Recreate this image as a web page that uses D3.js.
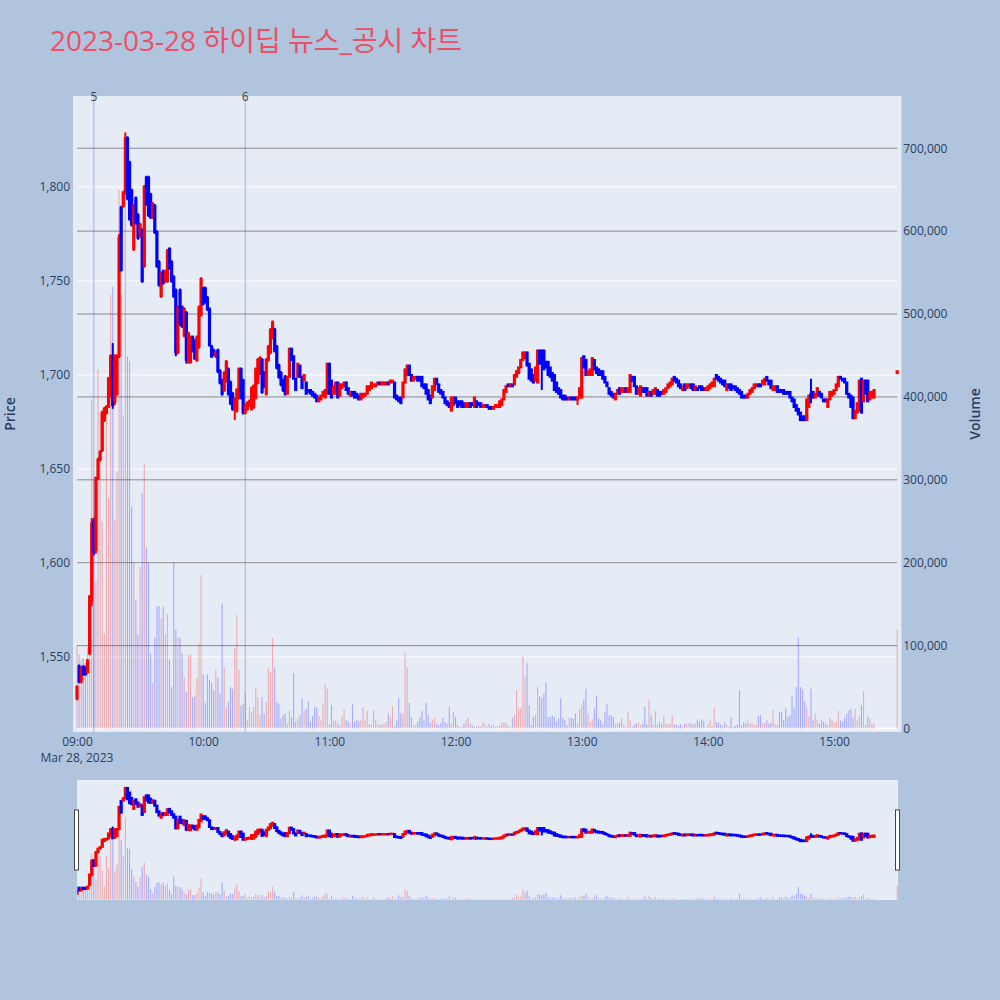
<!DOCTYPE html>
<html><head><meta charset="utf-8">
<script src="https://cdn.jsdelivr.net/npm/d3@7"></script>
<style>body{margin:0;background:#B0C4DE;} svg{display:block}</style>
</head><body><svg id="c" width="1000" height="1000"></svg>
<script>
const chartTitle = "2023-03-28 하이딥 뉴스_공시 차트";
const dateLabel = "Mar 28, 2023";
const sessionStart = "09:00";
const auctionTime = "15:30";
const timeTicks = ["09:00","10:00","11:00","12:00","13:00","14:00","15:00"];
const priceTicks = [1550,1600,1650,1700,1750,1800];
const volumeTicks = [0,100000,200000,300000,400000,500000,600000,700000];
const newsTimes = ["09:08","10:20"];
const newsLabels = ["5","6"];

// one entry per minute from 09:00 (380 regular minutes) + closing auction at 15:30
const open = [
1528,1545,1537,1545,1544,1542,1552,1580,1622,1607,
1645,1655,1660,1676,1680,1683,1690,1710,1686,1690,
1710,1789,1790,1797,1826,1813,1798,1767,1794,1785,
1774,1777,1758,1805,1805,1796,1784,1790,1776,1760,
1742,1755,1750,1750,1767,1760,1752,1745,1712,1745,
1736,1721,1733,1707,1707,1720,1718,1708,1715,1732,
1746,1746,1741,1735,1715,1713,1710,1713,1702,1697,
1692,1697,1703,1696,1690,1682,1681,1688,1703,1697,
1680,1682,1684,1682,1683,1688,1696,1701,1708,1701,
1690,1708,1712,1720,1724,1715,1705,1701,1697,1699,
1690,1699,1714,1710,1698,1699,1705,1699,1697,1696,
1692,1692,1691,1690,1689,1686,1687,1689,1688,1690,
1706,1697,1690,1690,1696,1689,1693,1694,1696,1693,
1689,1691,1691,1690,1689,1687,1688,1689,1690,1692,
1693,1694,1694,1695,1696,1695,1695,1695,1696,1696,
1696,1696,1689,1688,1688,1688,1696,1700,1705,1700,
1697,1698,1699,1699,1699,1695,1695,1692,1689,1688,
1692,1698,1695,1692,1691,1688,1686,1685,1681,1684,
1688,1686,1686,1686,1685,1683,1683,1685,1685,1683,
1686,1685,1685,1683,1683,1684,1683,1683,1682,1683,
1683,1683,1684,1687,1691,1695,1694,1695,1695,1699,
1701,1704,1708,1709,1712,1706,1703,1700,1697,1696,
1713,1713,1713,1707,1707,1704,1701,1700,1696,1693,
1692,1689,1689,1688,1687,1688,1688,1688,1687,1688,
1688,1710,1708,1700,1700,1700,1708,1704,1703,1702,
1702,1699,1696,1693,1691,1690,1687,1690,1693,1691,
1691,1693,1691,1691,1699,1699,1694,1690,1689,1693,
1693,1693,1689,1691,1690,1690,1692,1691,1691,1690,
1691,1693,1694,1695,1699,1698,1697,1695,1692,1695,
1693,1694,1695,1695,1692,1693,1694,1694,1693,1692,
1692,1693,1694,1694,1700,1699,1698,1697,1697,1692,
1695,1695,1694,1694,1693,1692,1691,1689,1689,1688,
1690,1691,1693,1694,1695,1695,1695,1695,1699,1697,
1697,1692,1692,1694,1692,1692,1692,1691,1691,1691,
1688,1687,1684,1682,1680,1678,1678,1676,1683,1690,
1691,1688,1689,1691,1690,1687,1687,1683,1687,1689,
1690,1692,1694,1699,1698,1698,1696,1690,1689,1688,
1677,1680,1681,1698,1686,1697,1697,1687,1688,1688,
1701];
const high = [
1535,1546,1545,1545,1545,1549,1583,1624,1624,1646,
1656,1660,1681,1683,1684,1699,1711,1717,1711,1711,
1775,1790,1798,1829,1827,1814,1799,1791,1795,1786,
1781,1778,1801,1806,1806,1797,1792,1791,1777,1761,
1755,1756,1756,1767,1768,1761,1753,1746,1737,1746,
1737,1736,1734,1723,1721,1721,1719,1721,1737,1752,
1747,1747,1742,1736,1716,1714,1713,1714,1703,1698,
1702,1708,1704,1697,1691,1688,1693,1704,1704,1698,
1685,1686,1687,1694,1695,1704,1709,1710,1709,1702,
1709,1716,1725,1729,1725,1716,1706,1702,1698,1700,
1699,1714,1714,1710,1698,1706,1705,1699,1700,1696,
1692,1692,1691,1690,1689,1688,1689,1691,1692,1706,
1706,1697,1694,1696,1696,1695,1695,1696,1696,1693,
1691,1691,1691,1690,1689,1690,1690,1690,1694,1694,
1696,1695,1695,1696,1696,1696,1696,1696,1696,1697,
1697,1696,1689,1688,1688,1696,1703,1705,1705,1700,
1699,1699,1699,1699,1699,1695,1695,1692,1689,1694,
1698,1698,1695,1692,1691,1688,1686,1685,1688,1688,
1688,1686,1686,1686,1685,1685,1685,1685,1685,1688,
1686,1685,1685,1684,1684,1684,1683,1683,1683,1684,
1684,1686,1687,1692,1694,1695,1695,1695,1700,1702,
1704,1708,1712,1712,1712,1706,1703,1700,1704,1713,
1713,1713,1713,1707,1707,1704,1701,1700,1696,1693,
1692,1689,1689,1688,1688,1688,1688,1688,1688,1693,
1709,1710,1708,1702,1703,1709,1708,1704,1703,1702,
1702,1699,1696,1693,1691,1690,1690,1692,1693,1693,
1693,1693,1693,1700,1699,1699,1694,1693,1694,1693,
1693,1693,1691,1691,1692,1693,1692,1691,1691,1692,
1693,1695,1696,1698,1699,1698,1697,1695,1694,1695,
1695,1695,1695,1695,1694,1693,1694,1694,1693,1693,
1694,1695,1696,1698,1700,1699,1698,1697,1697,1695,
1695,1695,1694,1694,1693,1692,1691,1689,1689,1690,
1692,1693,1695,1695,1695,1695,1697,1698,1699,1697,
1697,1694,1694,1694,1692,1692,1692,1691,1691,1691,
1688,1687,1684,1682,1680,1678,1678,1687,1689,1698,
1691,1690,1693,1691,1690,1687,1687,1687,1691,1691,
1692,1695,1699,1699,1698,1698,1696,1690,1689,1688,
1681,1685,1697,1698,1697,1697,1697,1691,1691,1692,
1702];
const low = [
1527,1536,1536,1540,1540,1541,1551,1577,1604,1605,
1644,1654,1659,1675,1679,1683,1688,1682,1684,1689,
1709,1755,1789,1796,1793,1782,1779,1766,1780,1772,
1773,1749,1757,1790,1784,1783,1783,1775,1757,1747,
1741,1748,1749,1749,1756,1749,1741,1710,1711,1726,
1725,1720,1706,1706,1706,1712,1708,1707,1714,1731,
1737,1738,1734,1715,1709,1710,1709,1701,1695,1689,
1691,1696,1689,1684,1681,1676,1680,1687,1687,1679,
1679,1681,1683,1681,1682,1687,1695,1700,1690,1693,
1689,1707,1711,1719,1712,1703,1698,1694,1691,1689,
1690,1699,1708,1698,1692,1699,1699,1693,1697,1690,
1691,1690,1689,1688,1686,1686,1687,1689,1688,1690,
1690,1688,1690,1690,1688,1689,1693,1694,1692,1690,
1689,1689,1688,1688,1687,1687,1688,1689,1690,1692,
1693,1694,1694,1695,1695,1695,1695,1695,1695,1696,
1696,1688,1687,1686,1685,1688,1696,1700,1700,1697,
1697,1698,1697,1697,1694,1693,1690,1687,1685,1688,
1692,1695,1691,1690,1688,1685,1684,1683,1681,1684,
1685,1683,1684,1683,1683,1683,1683,1683,1684,1683,
1683,1684,1683,1683,1683,1683,1682,1682,1682,1683,
1683,1683,1684,1687,1691,1694,1694,1694,1695,1699,
1701,1704,1708,1709,1705,1698,1697,1696,1697,1696,
1706,1692,1703,1704,1700,1699,1697,1692,1691,1690,
1688,1687,1687,1687,1687,1687,1687,1687,1684,1688,
1688,1704,1700,1700,1700,1700,1703,1701,1700,1700,
1698,1696,1694,1690,1689,1688,1687,1690,1690,1691,
1691,1691,1691,1691,1697,1694,1690,1690,1689,1691,
1691,1689,1689,1689,1690,1690,1689,1689,1690,1690,
1691,1693,1694,1695,1697,1696,1694,1693,1692,1692,
1693,1694,1693,1692,1692,1692,1693,1692,1692,1692,
1692,1693,1694,1694,1698,1697,1696,1695,1694,1692,
1693,1692,1693,1692,1691,1690,1688,1688,1688,1688,
1690,1691,1693,1694,1694,1694,1695,1695,1697,1695,
1693,1692,1692,1691,1691,1691,1690,1690,1690,1688,
1686,1683,1681,1679,1676,1676,1676,1676,1683,1685,
1688,1688,1689,1689,1688,1686,1686,1683,1687,1689,
1690,1692,1694,1698,1697,1696,1690,1688,1683,1677,
1677,1680,1681,1680,1686,1690,1686,1687,1688,1688,
1701];
const close = [
1534,1537,1544,1541,1541,1548,1582,1621,1606,1645,
1655,1659,1680,1682,1683,1698,1710,1684,1710,1710,
1773,1756,1797,1826,1794,1783,1780,1790,1781,1773,
1780,1750,1800,1791,1785,1784,1791,1776,1758,1748,
1754,1749,1755,1766,1757,1750,1742,1712,1736,1728,
1726,1735,1708,1722,1720,1713,1709,1720,1736,1751,
1738,1739,1735,1716,1710,1711,1712,1702,1696,1690,
1701,1707,1690,1685,1682,1687,1692,1703,1688,1680,
1684,1685,1686,1693,1694,1703,1708,1709,1691,1694,
1708,1715,1724,1728,1713,1704,1699,1695,1692,1690,
1699,1714,1708,1698,1692,1706,1699,1693,1700,1690,
1691,1690,1689,1688,1686,1688,1689,1691,1692,1706,
1690,1688,1694,1696,1688,1695,1695,1696,1692,1690,
1691,1689,1688,1688,1687,1690,1690,1690,1694,1694,
1696,1695,1695,1696,1695,1696,1696,1696,1695,1697,
1697,1688,1687,1686,1685,1696,1703,1705,1700,1697,
1699,1699,1697,1697,1694,1693,1690,1687,1685,1694,
1698,1695,1691,1690,1688,1685,1684,1683,1688,1688,
1685,1683,1684,1683,1683,1685,1685,1683,1684,1688,
1683,1684,1683,1684,1684,1683,1682,1682,1683,1684,
1684,1686,1687,1692,1694,1694,1695,1694,1700,1702,
1704,1708,1712,1712,1705,1698,1697,1696,1704,1713,
1706,1706,1703,1704,1700,1699,1697,1692,1691,1690,
1688,1687,1687,1687,1688,1687,1687,1687,1688,1693,
1709,1704,1700,1702,1703,1709,1703,1701,1700,1700,
1698,1696,1694,1690,1689,1688,1690,1692,1690,1693,
1693,1691,1693,1700,1697,1694,1690,1693,1694,1691,
1691,1689,1691,1689,1692,1693,1689,1689,1690,1692,
1693,1695,1696,1698,1697,1696,1694,1693,1694,1692,
1695,1695,1693,1692,1694,1692,1693,1692,1692,1693,
1694,1695,1696,1698,1698,1697,1696,1695,1694,1695,
1693,1692,1693,1692,1691,1690,1688,1688,1688,1690,
1692,1693,1695,1695,1694,1694,1697,1698,1697,1695,
1693,1694,1694,1691,1691,1691,1690,1690,1690,1688,
1686,1683,1681,1679,1676,1676,1676,1687,1689,1688,
1688,1690,1693,1689,1688,1686,1686,1687,1691,1691,
1692,1695,1699,1698,1697,1696,1690,1688,1683,1677,
1681,1685,1697,1680,1697,1690,1686,1691,1691,1692,
1702];
const volume = [
101000,89000,83000,85000,79000,98000,150000,397000,300000,177000,
433000,380000,250000,115000,385000,278000,523000,533000,252000,310000,
650000,523000,378000,720000,449000,443000,267000,201000,155000,113000,
195000,284000,320000,218000,200000,91000,55000,110000,147000,148000,
133000,147000,114000,138000,83000,50000,201000,119000,110000,109000,
91000,62000,44000,89000,89000,38000,40000,61000,103000,185000,
65000,31000,65000,59000,55000,46000,71000,61000,42000,151000,
74000,26000,32000,50000,48000,97000,137000,71000,28000,30000,
44000,10000,26000,20000,26000,49000,38000,16000,38000,18000,
32000,73000,68000,109000,74000,32000,30000,12000,16000,18000,
6000,22000,14000,67000,8000,12000,16000,37000,22000,24000,
33000,8000,15000,26000,25000,15000,10000,30000,54000,48000,
5000,28000,10000,10000,6000,4000,14000,23000,10000,8000,
6000,29000,8000,10000,9000,10000,25000,10000,21000,5000,
5000,22000,10000,6000,4000,6000,5000,8000,18000,14000,
27000,3000,10000,37000,19000,18000,91000,74000,31000,14000,
4000,4000,8000,13000,21000,10000,31000,16000,7000,10000,
13000,6000,4000,7000,13000,8000,6000,26000,6000,20000,
14000,4000,2000,2000,6000,10000,13000,6000,4000,3000,
2000,3000,2000,8000,5000,2000,6000,3000,5000,2000,
3000,4000,7000,7000,7000,4000,2000,13000,16000,46000,
24000,25000,87000,62000,79000,28000,4000,14000,16000,50000,
39000,37000,42000,56000,14000,14000,16000,14000,8000,12000,
37000,13000,10000,4000,13000,13000,12000,18000,6000,23000,
28000,35000,48000,18000,8000,11000,24000,39000,12000,10000,
5000,20000,30000,16000,16000,14000,6000,6000,7000,12000,
4000,2000,20000,10000,2000,5000,6000,7000,4000,6000,
26000,5000,35000,16000,5000,21000,5000,8000,5000,15000,
6000,5000,6000,16000,5000,5000,3000,5000,3000,6000,
5000,7000,6000,5000,6000,11000,8000,11000,9000,2000,
5000,10000,3000,25000,8000,7000,5000,3000,8000,5000,
2000,13000,2000,3000,5000,46000,4000,8000,6000,10000,
5000,7000,4000,5000,15000,16000,6000,7000,10000,6000,
7000,22000,5000,4000,20000,20000,10000,25000,14000,16000,
39000,25000,50000,110000,50000,47000,33000,25000,14000,48000,
10000,18000,11000,6000,10000,8000,6000,4000,13000,10000,
7000,8000,21000,10000,8000,13000,18000,22000,24000,13000,
24000,10000,15000,28000,45000,4000,15000,12000,6000,6000,
119000];

const FONT = '"Open Sans", verdana, arial, sans-serif';
const TXT = '#2a3f5f';
const UP = '#ff0000', DOWN = '#0000ff';

const parse = d3.timeParse("%H:%M");
const nReg = open.length - 1;
const times = d3.range(nReg).map(i => d3.timeMinute.offset(parse(sessionStart), i)).concat([parse(auctionTime)]);
const data = times.map((t, i) => ({t, o: open[i], h: high[i], l: low[i], c: close[i], v: volume[i]}));

const svg = d3.select('#c');
svg.append('rect').attr('width', 1000).attr('height', 1000).attr('fill', '#B0C4DE');

const x = d3.scaleTime().domain([parse("09:00"), parse("15:30")]).range([77, 897.2]);
const yP = d3.scaleLinear().domain([1510.1, 1848.4]).range([732, 96]);
const yV = d3.scaleLinear().domain([-4200, 763000]).range([732, 96]);

// title
svg.append('text').attr('x', 50).attr('y', 51).attr('fill', '#ec5066')
  .style('font-family', '"Open Sans","Noto Sans CJK KR",sans-serif').style('font-size', '28px')
  .text(chartTitle);

// plot background
svg.append('rect').attr('x', 73).attr('y', 96).attr('width', 828.5).attr('height', 636).attr('fill', '#E5ECF6');
const defs = svg.append('defs');
defs.append('clipPath').attr('id', 'clipMain').append('rect').attr('x', 73).attr('y', 96).attr('width', 828.5).attr('height', 636);
defs.append('clipPath').attr('id', 'clipSl').append('rect').attr('x', 77).attr('y', 780).attr('width', 821).attr('height', 120);

// grids
const grid = svg.append('g');
grid.selectAll('.pg').data(priceTicks).join('line')
  .attr('x1', 77).attr('x2', 897.2).attr('y1', d => yP(d)).attr('y2', d => yP(d))
  .attr('stroke', '#ffffff').attr('stroke-width', 1);
grid.selectAll('.vg').data(volumeTicks.filter(d => d > 0)).join('line')
  .attr('x1', 77).attr('x2', 897.2).attr('y1', d => yV(d)).attr('y2', d => yV(d))
  .attr('stroke', '#8a8a8a').attr('stroke-width', 1);
grid.append('line').attr('x1', 77).attr('x2', 897.2).attr('y1', yV(0)).attr('y2', yV(0))
  .attr('stroke', '#ffffff').attr('stroke-width', 2);

function drawTraces(g, xs, yp, yv, bw) {
  g.selectAll('rect.vol').data(data).join('rect').attr('class', 'vol')
    .attr('x', d => xs(d.t) - bw / 2).attr('width', bw)
    .attr('y', d => yv(d.v)).attr('height', d => Math.max(0, yv(0) - yv(d.v)))
    .attr('fill', d => d.c > d.o ? 'rgba(255,0,0,0.28)' : 'rgba(0,0,255,0.28)');
  const cg = g.selectAll('g.cdl').data(data).join('g').attr('class', 'cdl');
  cg.append('line').attr('x1', d => xs(d.t)).attr('x2', d => xs(d.t))
    .attr('y1', d => yp(d.h)).attr('y2', d => yp(d.l))
    .attr('stroke', d => d.c > d.o ? UP : DOWN).attr('stroke-width', 2);
  cg.append('rect').attr('x', d => xs(d.t) - 0.6).attr('width', 1.2)
    .attr('y', d => yp(Math.max(d.o, d.c))).attr('height', d => Math.abs(yp(d.o) - yp(d.c)))
    .attr('fill', d => d.c > d.o ? UP : DOWN).attr('stroke', d => d.c > d.o ? UP : DOWN).attr('stroke-width', 2);
}

const main = svg.append('g').attr('clip-path', 'url(#clipMain)');
drawTraces(main, x, yP, yV, 1.1);

// news markers
const nl = svg.append('g');
newsTimes.forEach((t, i) => {
  const xx = x(parse(t));
  nl.append('line').attr('x1', xx).attr('x2', xx).attr('y1', 96).attr('y2', 732)
    .attr('stroke', 'rgba(65,105,225,0.45)').attr('stroke-width', 1);
  nl.append('text').attr('x', xx).attr('y', 101).attr('text-anchor', 'middle')
    .attr('fill', '#444').style('font-family', FONT).style('font-size', '12px').text(newsLabels[i]);
});

// axes
function styleAxis(g) {
  g.select('.domain').remove();
  g.selectAll('text').attr('fill', TXT).style('font-family', FONT).style('font-size', '12px');
}
svg.append('g').attr('transform', 'translate(0,732)')
  .call(d3.axisBottom(x).tickValues(timeTicks.map(parse)).tickFormat(d3.timeFormat('%H:%M')).tickSize(0).tickPadding(5))
  .call(styleAxis);
svg.append('text').attr('x', 77).attr('y', 762).attr('text-anchor', 'middle').attr('fill', TXT)
  .style('font-family', FONT).style('font-size', '12px').text(dateLabel);
svg.append('g').attr('transform', 'translate(77,0)')
  .call(d3.axisLeft(yP).tickValues(priceTicks).tickFormat(d3.format(',')).tickSize(0).tickPadding(7))
  .call(styleAxis);
svg.append('g').attr('transform', 'translate(897.2,0)')
  .call(d3.axisRight(yV).tickValues(volumeTicks).tickFormat(d3.format(',')).tickSize(0).tickPadding(6))
  .call(styleAxis);

svg.append('text').attr('transform', 'translate(15,414) rotate(-90)').attr('text-anchor', 'middle')
  .attr('fill', TXT).style('font-family', FONT).style('font-size', '14px').style('font-weight', '600').text('Price');
svg.append('text').attr('transform', 'translate(980,414) rotate(-90)').attr('text-anchor', 'middle')
  .attr('fill', TXT).style('font-family', FONT).style('font-size', '14px').style('font-weight', '600').text('Volume');

// range slider
svg.append('rect').attr('x', 77).attr('y', 780).attr('width', 821).attr('height', 120).attr('fill', '#E5ECF6');
const yPs = d3.scaleLinear().domain([1510.1, 1848.4]).range([900, 780]);
const yVs = d3.scaleLinear().domain([0, 1050000]).range([899.5, 779.5]);
const sl = svg.append('g').attr('clip-path', 'url(#clipSl)');
drawTraces(sl, x, yPs, yVs, 1.1);
[76.5, 897.5].forEach(hx => {
  svg.append('rect').attr('x', hx - 2).attr('y', 810).attr('width', 4).attr('height', 60)
    .attr('fill', '#ffffff').attr('stroke', '#444').attr('stroke-width', 1);
});
</script></body></html>
